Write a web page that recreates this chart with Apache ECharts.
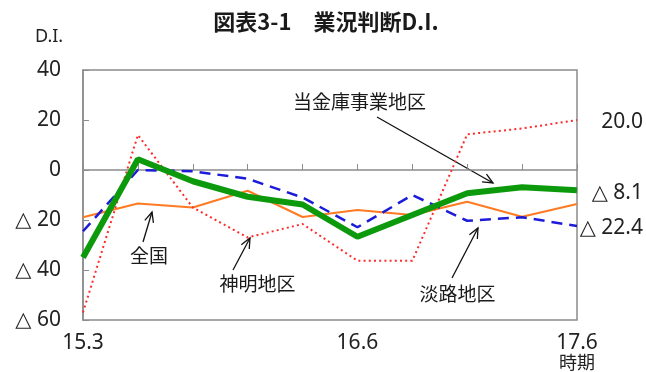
<!DOCTYPE html>
<html><head><meta charset="utf-8">
<script src="https://cdn.jsdelivr.net/npm/echarts@6/dist/echarts.min.js"></script>
<style>html,body{margin:0;padding:0;background:#fff}#c{width:646px;height:372px}</style>
</head><body><div id="c"></div>
<script>
// ---- data ----
const periods = ['15.3','15.6','15.9','15.12','16.3','16.6','16.9','16.12','17.3','17.6'];
const shownPeriods = ['15.3','16.6','17.6'];
const yTickValues = [-60,-40,-20,0,20,40];
const zenkoku  = [-18.9,-13.4,-15.0,-8.3,-18.8,-16.0,-18.0,-12.7,-18.7,-13.6];
const kinkoArea = [-35.0,4.3,-4.5,-10.7,-13.8,-26.7,-18.0,-9.3,-6.9,-8.1];
const awaji    = [-24.5,0.0,-0.5,-3.5,-11.0,-22.9,-10.0,-20.3,-18.9,-22.4];
const shinmei  = [-57.0,14.0,-15.0,-27.0,-21.6,-36.3,-36.3,14.3,16.6,20.0];
const seriesNames = ['全国','当金庫事業地区','淡路地区','神明地区'];

const NUM = '"Noto Sans","DejaVu Sans",sans-serif';
const JP = '"Noto Sans CJK JP",sans-serif';
const TXT = '#222';
const fmtDI = v => v < 0 ? '△ ' + Math.abs(v) : String(v);
const fmtEnd = v => v < 0 ? '△ ' + Math.abs(v).toFixed(1) : v.toFixed(1);

function arrow(x1,y1,x2,y2){
  const a = Math.atan2(y2-y1,x2-x1), L = 11, s = 0.42;
  const p1 = [x2 - L*Math.cos(a-s), y2 - L*Math.sin(a-s)];
  const p2 = [x2 - L*Math.cos(a+s), y2 - L*Math.sin(a+s)];
  return [
    {type:'line', shape:{x1,y1,x2,y2}, style:{stroke:'#111', lineWidth:1.3}},
    {type:'polyline', shape:{points:[p1,[x2,y2],p2]}, style:{stroke:'#111', lineWidth:1.3, fill:null}}
  ];
}
function label(text,x,y,size){
  return {type:'text', x, y, style:{text, font:'normal '+(size||19)+'px '+JP, fill:'#1a1a1a', align:'center', verticalAlign:'middle'}};
}

const chart = echarts.init(document.getElementById('c'), null, {renderer:'canvas'});
const endLab = (dy) => ({show:true, formatter: p => fmtEnd(p.value), align:'right', distance:5, offset:[61,dy],
  fontSize:21, fontFamily:NUM, color:TXT});

chart.setOption({
  animation:false,
  backgroundColor:'#fff',
  grid:{left:83, right:69, top:70, bottom:52, show:true, borderColor:'#8c8c8c', borderWidth:1.5},
  xAxis:{type:'category', data:periods, boundaryGap:false,
    axisLine:{lineStyle:{color:'#8c8c8c', width:1.5}},
    axisTick:{show:true, inside:true, length:6, interval:0, lineStyle:{color:'#8c8c8c'}},
    axisLabel:{interval:(i,v)=>shownPeriods.indexOf(v)>=0, margin:13,
      formatter: v => v === periods[periods.length-1] ? '{a|'+v+'}\n{b|時期}' : '{a|'+v+'}',
      rich:{a:{fontSize:21, fontFamily:NUM, color:TXT, lineHeight:20},
            b:{fontSize:18, fontFamily:JP, color:TXT, lineHeight:19}}},
    splitLine:{show:false}},
  yAxis:{type:'value', min:yTickValues[0], max:yTickValues[yTickValues.length-1], interval:20,
    axisLine:{show:true, lineStyle:{color:'#8c8c8c', width:1.5}},
    axisTick:{show:true, inside:true, length:6, lineStyle:{color:'#8c8c8c'}},
    axisLabel:{formatter:fmtDI, fontSize:21, fontFamily:NUM, color:TXT, margin:22},
    splitLine:{show:false}},
  series:[
    {name:seriesNames[0], type:'line', data:zenkoku, showSymbol:false,
      lineStyle:{color:'#ff7a22', width:2}},
    {name:seriesNames[3], type:'line', data:shinmei, showSymbol:false,
      lineStyle:{color:'#ff2a2a', width:2, type:[2,3.2]}, endLabel:endLab(2)},
    {name:seriesNames[2], type:'line', data:awaji, showSymbol:false,
      lineStyle:{color:'#1c1cd8', width:2.5, type:[11,7]}, endLabel:endLab(2)},
    {name:seriesNames[1], type:'line', data:kinkoArea, showSymbol:false,
      lineStyle:{color:'#0c9a0c', width:6}, endLabel:endLab(3)}
  ],
  graphic:[
    {type:'text', x:326, y:22, style:{text:'図表3-1　業況判断D.I.', font:'bold 22px '+JP, fill:'#1a1a1a', align:'center', verticalAlign:'middle'}},
    {type:'text', x:35, y:37, style:{text:'D.I.', font:'normal 18px '+NUM, fill:TXT, align:'left', verticalAlign:'middle'}},
    label(seriesNames[1],359.5,102),
    label(seriesNames[0],149,256),
    label(seriesNames[3],257.5,284),
    label(seriesNames[2],457.5,293.5),
    ...arrow(377,117,493,183),
    ...arrow(143,242,152,212),
    ...arrow(233,270,250,238),
    ...arrow(452,278,478,228)
  ]
});
</script></body></html>
